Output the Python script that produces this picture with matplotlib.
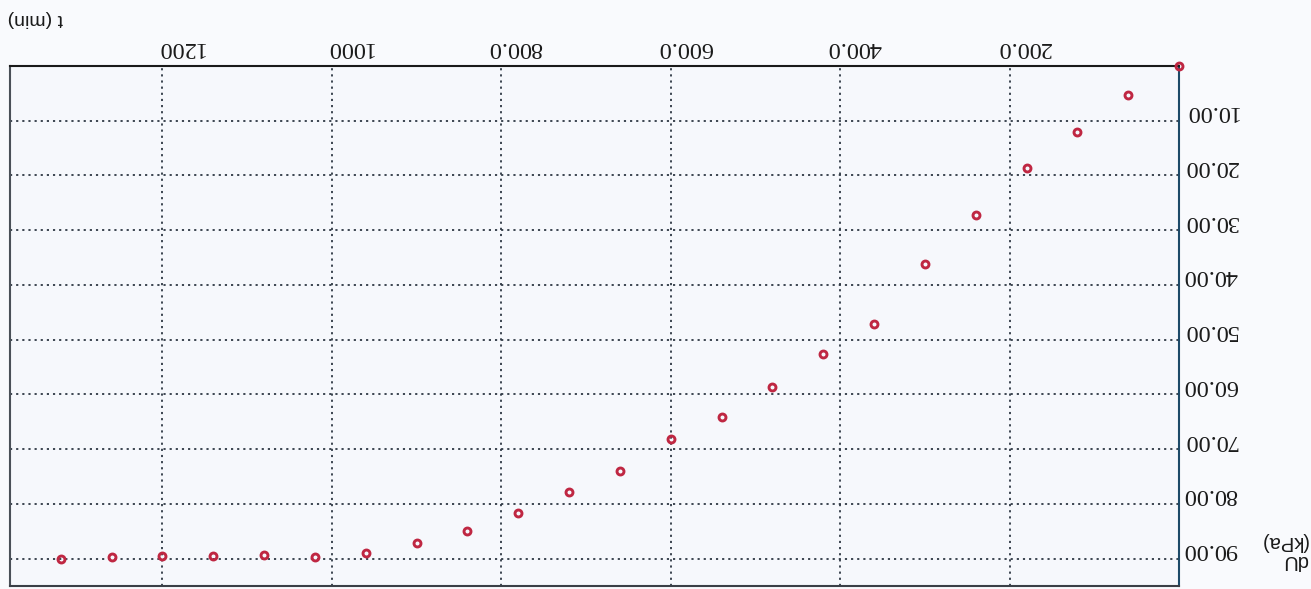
import matplotlib
matplotlib.use("Agg")
import matplotlib.pyplot as plt
from matplotlib.transforms import ScaledTranslation

# consolidation readings: time (min) vs excess pore pressure change (kPa)
t_min = [0, 60, 120, 180, 240, 300, 360, 420, 480, 540, 600, 660,
         720, 780, 840, 900, 960, 1020, 1080, 1140, 1200, 1260, 1320]
du_kpa = [0.0, 5.3, 12.1, 18.6, 27.2, 36.2, 47.2, 52.7, 58.7, 64.2, 68.2, 74.0,
          77.9, 81.6, 85.0, 87.2, 89.0, 89.7, 89.4, 89.5, 89.5, 89.7, 90.1]

x_ticks = [200, 400, 600, 800, 1000, 1200]
x_tick_labels = ["200.0", "400.0", "600.0", "800.0", "1000", "1200"]
y_ticks = [10, 20, 30, 40, 50, 60, 70, 80, 90]
y_tick_labels = ["10.00", "20.00", "30.00", "40.00", "50.00",
                 "60.00", "70.00", "80.00", "90.00"]

bg = "#f9fafd"
fig = plt.figure(figsize=(13.11, 5.89), dpi=100, facecolor=bg)
ax = fig.add_axes([0.0076, 0.005, 0.8917, 0.883], facecolor="#f6f8fc")

# the scanned sheet is upside down, so both axes run backwards
ax.plot(t_min, du_kpa, linestyle="none", marker="o", markersize=5.0,
        markerfacecolor="none", markeredgecolor="#bf2742", markeredgewidth=2.1,
        clip_on=False, zorder=5)
ax.set_xlim(1380, 0)
ax.set_ylim(95, 0)

ax.set_xticks(x_ticks)
ax.set_xticklabels(x_tick_labels)
ax.set_yticks(y_ticks)
ax.set_yticklabels(y_tick_labels)
ax.xaxis.tick_top()
ax.yaxis.tick_right()
ax.tick_params(axis="x", length=0, pad=6, labelrotation=180, labelsize=17.5,
               labelcolor="#1a1a1a")
ax.tick_params(axis="y", length=0, pad=3, labelrotation=180, labelsize=17.5,
               labelcolor="#1a1a1a")

# labels on the scan sit off-centre from their ticks
x_shift = ScaledTranslation(41 / 100, 0, fig.dpi_scale_trans)
y_shift = ScaledTranslation(0, 9 / 100, fig.dpi_scale_trans)
for lbl in ax.get_xticklabels():
    lbl.set_fontfamily("Liberation Serif")
    lbl.set_ha("right")
    lbl.set_transform(lbl.get_transform() + x_shift)
for lbl in ax.get_yticklabels():
    lbl.set_fontfamily("Liberation Serif")
    lbl.set_va("center")
    lbl.set_transform(lbl.get_transform() + y_shift)

ax.grid(True, color="#2e3844", linestyle=(0, (1.2, 2.2)), linewidth=1.3)

ax.spines["top"].set_color("#1a1a1a")
ax.spines["bottom"].set_color("#3a3f46")
ax.spines["left"].set_color("#4a5058")
ax.spines["right"].set_color("#1d4a68")
for s in ax.spines.values():
    s.set_linewidth(1.5)

fig.text(35 / 1311, 1 - 19 / 589, "t (min)", rotation=180, ha="center", va="center",
         fontsize=14, fontfamily="Liberation Sans", color="#1a1a1a")
fig.text(1284 / 1311, 1 - 551 / 589, "dU\n(kPa)", rotation=180, ha="center", va="center",
         multialignment="left", fontsize=14.5, fontfamily="Liberation Sans",
         color="#1a1a1a", linespacing=1.0)

fig.savefig("out.png", dpi=100, facecolor=bg)
